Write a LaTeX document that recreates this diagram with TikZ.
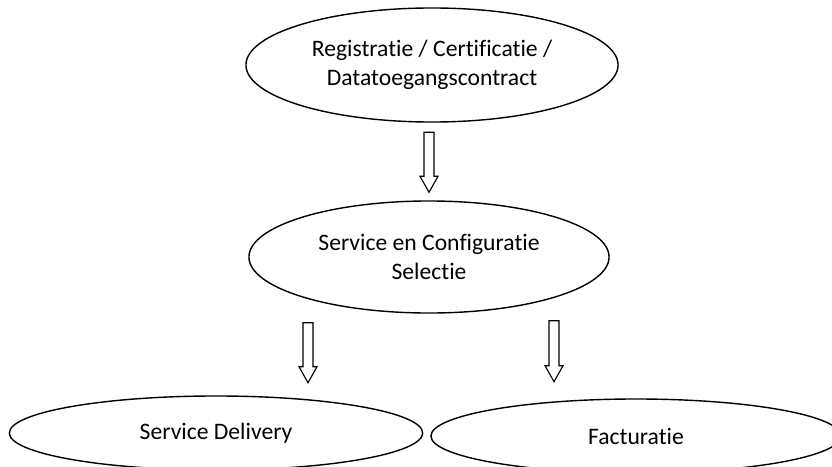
\documentclass[tikz,border=0pt]{standalone}
\usepackage{fontspec}
\setmainfont{Carlito}[Ligatures=CommonOff]
\usetikzlibrary{shapes.geometric,calc}
\tikzset{
   phase/.style={ellipse,draw,line width=1pt,inner sep=0pt,align=center,
     font=\fontsize{16.8}{20.6}\selectfont},
   blockarrow/.style={draw,line width=0.8pt,fill=white,to path={
       ($(\tikztostart)+(-5,0)$) -- ($(\tikztotarget)+(-5,-16)$) -- ($(\tikztotarget)+(-9,-16)$)
       -- (\tikztotarget) -- ($(\tikztotarget)+(9,-16)$) -- ($(\tikztotarget)+(5,-16)$)
       -- ($(\tikztostart)+(5,0)$) -- cycle}},
 }
\newcommand{\darr}[2]{\draw[blockarrow] (#1) to (#2)}

\begin{document}
\begin{tikzpicture}[x=0.025cm,y=-0.025cm]
      \useasboundingbox (0,0) rectangle (832,466);
      \clip (0,0) rectangle (832,466);

      \node[phase,minimum width=9.3cm,minimum height=2.85cm] (reg) at (432,65)
        {Registratie / Certificatie /\\Datatoegangscontract};

      \node[phase,minimum width=9cm,minimum height=2.8cm] (sel) at (429,257)
        {Service en Configuratie\\Selectie};
      \darr{$(sel.north)+(0,-68)$}{$(sel.north)+(0,-8)$};

      \node[phase,minimum width=10.33cm,minimum height=1.85cm] (del) at (216,433) {Service Delivery};
      \darr{$(sel.south)+(-121,9)$}{$(sel.south)+(-121,69)$};

      \node[phase,minimum width=10.25cm,minimum height=1.85cm] (fac) at (636,436) {Facturatie};
      \darr{$(sel.south)+(125,7)$}{$(sel.south)+(125,68)$};
    \end{tikzpicture}
\end{document}
